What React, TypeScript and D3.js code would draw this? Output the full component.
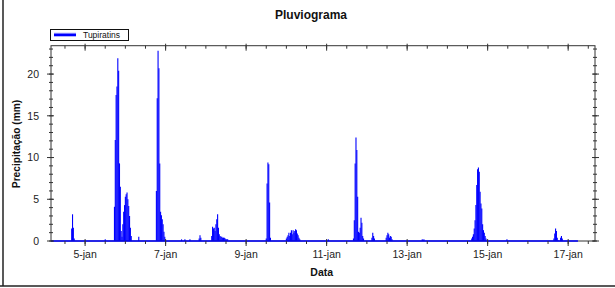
import React from "react";
import * as d3 from "d3";

// ---- data (30-minute rainfall totals, mm) ----
const seriesName = "Tupiratins";
const stepMinutes = 30;
const eventStarts = [
  "2014-01-04 16:00", "2014-01-05 12:00", "2014-01-05 17:30", "2014-01-06 08:00",
  "2014-01-06 18:30", "2014-01-07 09:30", "2014-01-07 11:30", "2014-01-07 14:30",
  "2014-01-07 20:00", "2014-01-08 03:30", "2014-01-09 12:00", "2014-01-10 00:00",
  "2014-01-11 01:00", "2014-01-11 16:00", "2014-01-12 03:00", "2014-01-12 11:30",
  "2014-01-13 09:00", "2014-01-14 14:30", "2014-01-15 11:30", "2014-01-16 15:30",
  "2014-01-16 19:30",
];
const eventRain: number[][] = [
  [1.5, 3.2, 1.6, 0.3],
  [0.2],
  [4.1, 12.1, 17.5, 18.5, 21.9, 20.4, 9.3, 6.5, 1.2, 0.5, 2.0, 3.5, 4.3, 5.3, 5.6, 5.8, 5.0, 4.2, 3.0, 1.6, 0.6],
  [0.5],
  [6.0, 17.1, 22.8, 20.7, 9.3, 3.5, 3.1, 2.6, 2.0, 1.1, 0.5],
  [0.2],
  [0.2],
  [0.2],
  [0.3, 0.7, 0.4],
  [0.6, 1.7, 1.5, 1.6, 1.2, 2.0, 2.6, 3.2, 1.6, 0.8, 0.6, 0.5, 0.5, 0.4, 0.4, 0.4, 0.3, 0.2, 0.2, 0.2],
  [0.3, 6.9, 9.4, 9.2, 4.6, 0.4],
  [0.3, 0.5, 0.7, 1.0, 0.6, 1.0, 1.3, 0.8, 1.3, 1.0, 1.2, 1.4, 1.3, 0.9, 0.7, 0.4, 0.2],
  [0.2],
  [0.3, 2.5, 9.3, 12.4, 10.9, 5.3, 1.1, 1.0, 1.6, 2.8, 2.2, 0.6, 0.3],
  [0.4, 1.0, 0.6, 0.3],
  [0.4, 0.7, 1.0, 0.8, 0.4, 0.6, 0.5, 0.2],
  [0.2, 0.1, 0.2],
  [0.3, 0.5, 0.8, 1.5, 2.5, 4.3, 6.7, 8.6, 8.8, 8.3, 5.9, 4.5, 3.9, 2.0, 1.3, 1.0, 0.6, 0.3],
  [0.2],
  [0.3, 0.9, 1.5, 1.2, 0.4, 0.1],
  [0.4, 0.6, 0.3],
];
const recordStart = "2014-01-04 03:40";
const recordEnd = "2014-01-17 05:50";
const axisStart = "2014-01-04 03:40";
const axisEnd = "2014-01-17 16:00";
const xTickDates = ["2014-01-05", "2014-01-07", "2014-01-09", "2014-01-11", "2014-01-13", "2014-01-15", "2014-01-17"];
const xTickLabels = ["5-jan", "7-jan", "9-jan", "11-jan", "13-jan", "15-jan", "17-jan"];
const yTicks = [0, 5, 10, 15, 20];
const yMax = 23.4;
const title = "Pluviograma";
const xTitle = "Data";
const yTitle = "Precipitação (mm)";

const parse = d3.timeParse("%Y-%m-%d %H:%M");
const parseDay = d3.timeParse("%Y-%m-%d");

export default function App() {
  const W = 615, H = 288;
  const L = 51, R = 595, T = 45.7, B = 241;
  const x = d3.scaleTime().domain([parse(axisStart)!, parse(axisEnd)!]).range([L, R]);
  const y = d3.scaleLinear().domain([0, yMax]).range([B, T]);
  const font = "Arial, 'Liberation Sans', sans-serif";
  const axisColor = "#333";

  const points: { t: Date; v: number }[] = [];
  eventStarts.forEach((s, i) => {
    const t0 = parse(s)!;
    eventRain[i].forEach((v, j) => {
      points.push({ t: d3.timeMinute.offset(t0, j * stepMinutes), v });
    });
  });

  const minorX = x.ticks(d3.timeHour.every(12)!);
  const minorY = d3.range(0, Math.floor(yMax) + 1);
  const majorX = xTickDates.map((d) => parseDay(d)!);

  return (
    <svg width={W} height={H} style={{ position: "absolute", left: 0, top: 0, background: "#fff" }}>
      {/* outer frame */}
      <line x1={3} y1={0} x2={3} y2={286} stroke="#222" strokeWidth={1.5} />
      <line x1={0} y1={286} x2={W} y2={286} stroke="#222" strokeWidth={1.5} />

      {/* title */}
      <text x={311} y={18.7} textAnchor="middle" fontFamily={font} fontWeight="bold" fontSize={12} fill="#111">{title}</text>

      {/* legend */}
      <rect x={50.5} y={29.5} width={78} height={11} fill="#fff" stroke="#111" strokeWidth={1} />
      <line x1={54} x2={76} y1={34.8} y2={34.8} stroke="#0000ff" strokeWidth={3} />
      <line x1={54} x2={76} y1={33.3} y2={33.3} stroke="#8080ff" strokeWidth={1} />
      <text x={83} y={38} fontFamily={font} fontSize={8.5} fill="#111">{seriesName}</text>

      {/* bars */}
      <g stroke="#0000ff" strokeWidth={1.1}>
        {points.map((p, i) => (
          <line key={i} x1={x(p.t)} x2={x(p.t)} y1={y(0)} y2={y(p.v)} />
        ))}
      </g>

      {/* plot frame */}
      <rect x={L} y={T} width={R - L} height={B - T} fill="none" stroke={axisColor} strokeWidth={1} />
      {/* baseline of record */}
      <line x1={x(parse(recordStart)!)} x2={x(parse(recordEnd)!)} y1={B} y2={B} stroke="#0000ff" strokeWidth={1.5} />

      {/* x ticks */}
      <g stroke={axisColor} strokeWidth={1}>
        {minorX.map((d, i) => (
          <g key={i}>
            <line x1={x(d)} x2={x(d)} y1={B} y2={B + 3} />
            <line x1={x(d)} x2={x(d)} y1={T} y2={T + 3} />
          </g>
        ))}
        {majorX.map((d, i) => (
          <g key={i}>
            <line x1={x(d)} x2={x(d)} y1={B - 2} y2={B + 5} />
            <line x1={x(d)} x2={x(d)} y1={T - 2} y2={T + 5} />
          </g>
        ))}
      </g>
      {majorX.map((d, i) => (
        <text key={i} x={x(d)} y={258.3} textAnchor="middle" fontFamily={font} fontSize={10.5} fill="#222">{xTickLabels[i]}</text>
      ))}

      {/* y ticks */}
      <g stroke={axisColor} strokeWidth={1}>
        {minorY.map((v) => (
          <g key={v}>
            <line x1={L - 2} x2={L + 2} y1={y(v)} y2={y(v)} />
            <line x1={R - 2} x2={R + 2} y1={y(v)} y2={y(v)} />
          </g>
        ))}
        {yTicks.map((v) => (
          <g key={v}>
            <line x1={L - 4} x2={L + 3} y1={y(v)} y2={y(v)} />
            <line x1={R - 3} x2={R + 4} y1={y(v)} y2={y(v)} />
          </g>
        ))}
      </g>
      {yTicks.map((v) => (
        <text key={v} x={39} y={y(v)} dy="0.36em" textAnchor="end" fontFamily={font} fontSize={10.5} fill="#222">{v}</text>
      ))}

      {/* axis titles */}
      <text x={321.7} y={276} textAnchor="middle" fontFamily={font} fontWeight="bold" fontSize={10.5} fill="#111">{xTitle}</text>
      <text transform="translate(20.3,144) rotate(-90)" textAnchor="middle" fontFamily={font} fontWeight="bold" fontSize={10.2} fill="#111">{yTitle}</text>
    </svg>
  );
}
